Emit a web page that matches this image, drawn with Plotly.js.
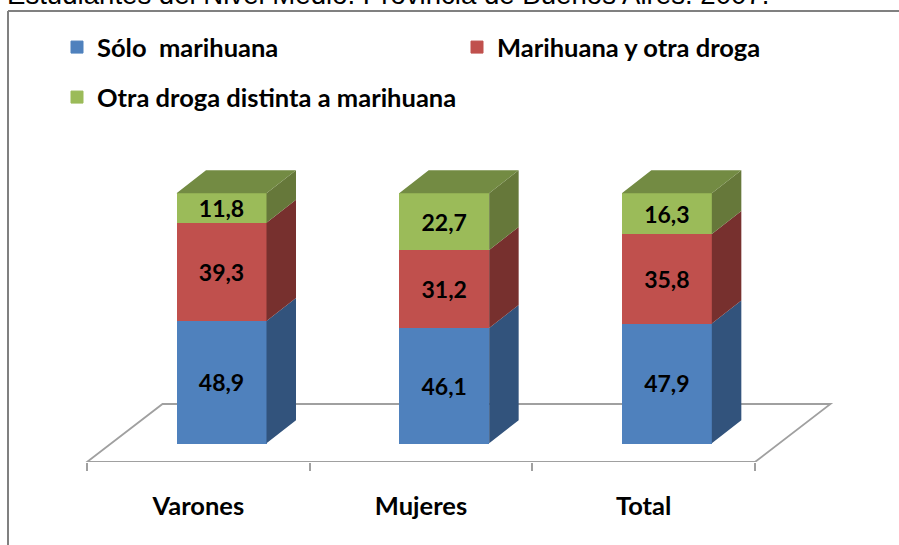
<!DOCTYPE html>
<html><head><meta charset="utf-8">
<script src="https://cdn.plot.ly/plotly-3.0.1.min.js"></script>
<style>html,body{margin:0;padding:0;background:#fff;overflow:hidden}</style>
</head><body><div id="chart" style="width:899px;height:545px"></div>
<script>
const categories = ["Varones","Mujeres","Total"];
const soloMarihuana = [48.9,46.1,47.9];
const marihuanaYOtra = [39.3,31.2,35.8];
const otraDroga = [11.8,22.7,16.3];
const seriesNames = ["Sólo  marihuana","Marihuana y otra droga","Otra droga distinta a marihuana"];
const frontColors = ["#4f81bd","#c0504d","#9bbb59"];
const sideColors = ["#32537c","#77302e","#66783a"];
const topColor = "#738b43";
const titleText = "Estudiantes del Nivel Medio. Provincia de Buenos Aires. 2007.";

const W = 899, H = 545, pxX = 222.67, pxY = 2.5;
const floorLeft = 87, floorBaseline = 462, barBase = 443.2;
const yMin = -(floorBaseline-barBase)/pxY;
const xMin = -0.5-floorLeft/pxX;
const xMax = 2.5+(W-755)/pxX;
const barW = 89/pxX, barOffset = (177-floorLeft)/pxX-0.5;
const dX = 29.5/pxX, dY = 23/pxY;
const gray = "#a0a0a0";
const series = [soloMarihuana, marihuanaYOtra, otraDroga];
const xs = categories.map((_,i)=>i);

const traces = [];
series.forEach((vals,s)=>{
  traces.push({
    type:"bar", x:xs, y:vals, name:seriesNames[s],
    legend: s===0?"legend":("legend"+(s+1)),
    width:barW, offset:barOffset,
    marker:{color:frontColors[s], line:{color:frontColors[s],width:1}},
    texttemplate:"%{y:.1f}", textposition:"inside", insidetextanchor:"middle",
    textangle:0, constraintext:"none",
    textfont:{family:"Lato",size:23,color:"#000",weight:700},
    hoverinfo:"skip"
  });
});
const base = xs.map(()=>0);
series.forEach((vals,s)=>{
  const px=[],py=[];
  xs.forEach(i=>{
    const xr = i+barOffset+barW+0.5/pxX, y0 = base[i], y1 = base[i]+vals[i];
    px.push(xr,xr+dX,xr+dX,xr,xr,null);
    py.push(y0,y0+dY,y1+dY,y1,y0,null);
    base[i]=y1;
  });
  traces.push({type:"scatter",mode:"lines",x:px,y:py,fill:"toself",fillcolor:sideColors[s],
    line:{width:0,color:sideColors[s]},showlegend:false,hoverinfo:"skip"});
});
const tx=[],ty=[];
xs.forEach(i=>{
  const xl=i+barOffset-0.5/pxX, xr=i+barOffset+barW+0.5/pxX, t=base[i];
  tx.push(xl,xl+dX,xr+dX,xr,xl,null);
  ty.push(t,t+dY,t+dY,t,t,null);
});
traces.push({type:"scatter",mode:"lines",x:tx,y:ty,fill:"toself",fillcolor:topColor,
  line:{width:0,color:topColor},showlegend:false,hoverinfo:"skip"});

const fdX = 75.5/pxX, fdY = 58/pxY;
const floorPath = `M ${xMin+floorLeft/pxX} ${yMin} L ${-0.5+fdX} ${yMin+fdY} L ${2.5+fdX} ${yMin+fdY} L 2.5 ${yMin} Z`;
const legendFont = {family:"Lato",size:25.5,color:"#000",weight:700};
const leg = (px,py)=>({x:px/W,y:1-py/462,xanchor:"left",yanchor:"middle",orientation:"v",
  font:legendFont,bgcolor:"rgba(0,0,0,0)",borderwidth:0,itemclick:false,itemdoubleclick:false});

const layout = {
  width:W,height:H,margin:{l:0,r:0,t:0,b:H-floorBaseline,pad:0},
  paper_bgcolor:"#fff",plot_bgcolor:"rgba(0,0,0,0)",
  separators:",.",barmode:"stack",showlegend:true,
  title:{text:titleText,x:7/W,xanchor:"left",xref:"paper",y:1-4/H,yanchor:"bottom",yref:"container",
    font:{family:"Liberation Sans",size:27.6,color:"#000"},pad:{l:0,r:0,t:0,b:0}},
  xaxis:{range:[xMin,xMax],tickmode:"array",tickvals:xs,ticktext:categories,ticks:"",
    showgrid:false,zeroline:false,showline:false,fixedrange:true,ticklabelstandoff:26,
    tickfont:{family:"Lato",size:25.5,color:"#000",weight:700},
    minor:{tickmode:"array",tickvals:[-0.5,0.5,1.5,2.5],ticks:"outside",ticklen:8,tickcolor:gray,tickwidth:1.5,showgrid:false}},
  yaxis:{range:[yMin,(floorBaseline)/pxY+yMin],visible:false,fixedrange:true},
  legend:leg(57,47.5),legend2:leg(457,47.5),legend3:leg(57,97.5),
  shapes:[
    {type:"path",path:floorPath,layer:"below",xref:"x",yref:"y",line:{color:gray,width:1.8},fillcolor:"#fff"},
    {type:"line",xref:"paper",yref:"paper",x0:8/W,x1:8/W,y0:-83/462,y1:1-11/462,line:{color:"#808080",width:2}},
    {type:"line",xref:"paper",yref:"paper",x0:8/W,x1:1,y0:1-11/462,y1:1-11/462,line:{color:"#808080",width:2}}
  ]
};
Plotly.newPlot("chart",traces,layout,{displayModeBar:false,staticPlot:false});
</script></body></html>
